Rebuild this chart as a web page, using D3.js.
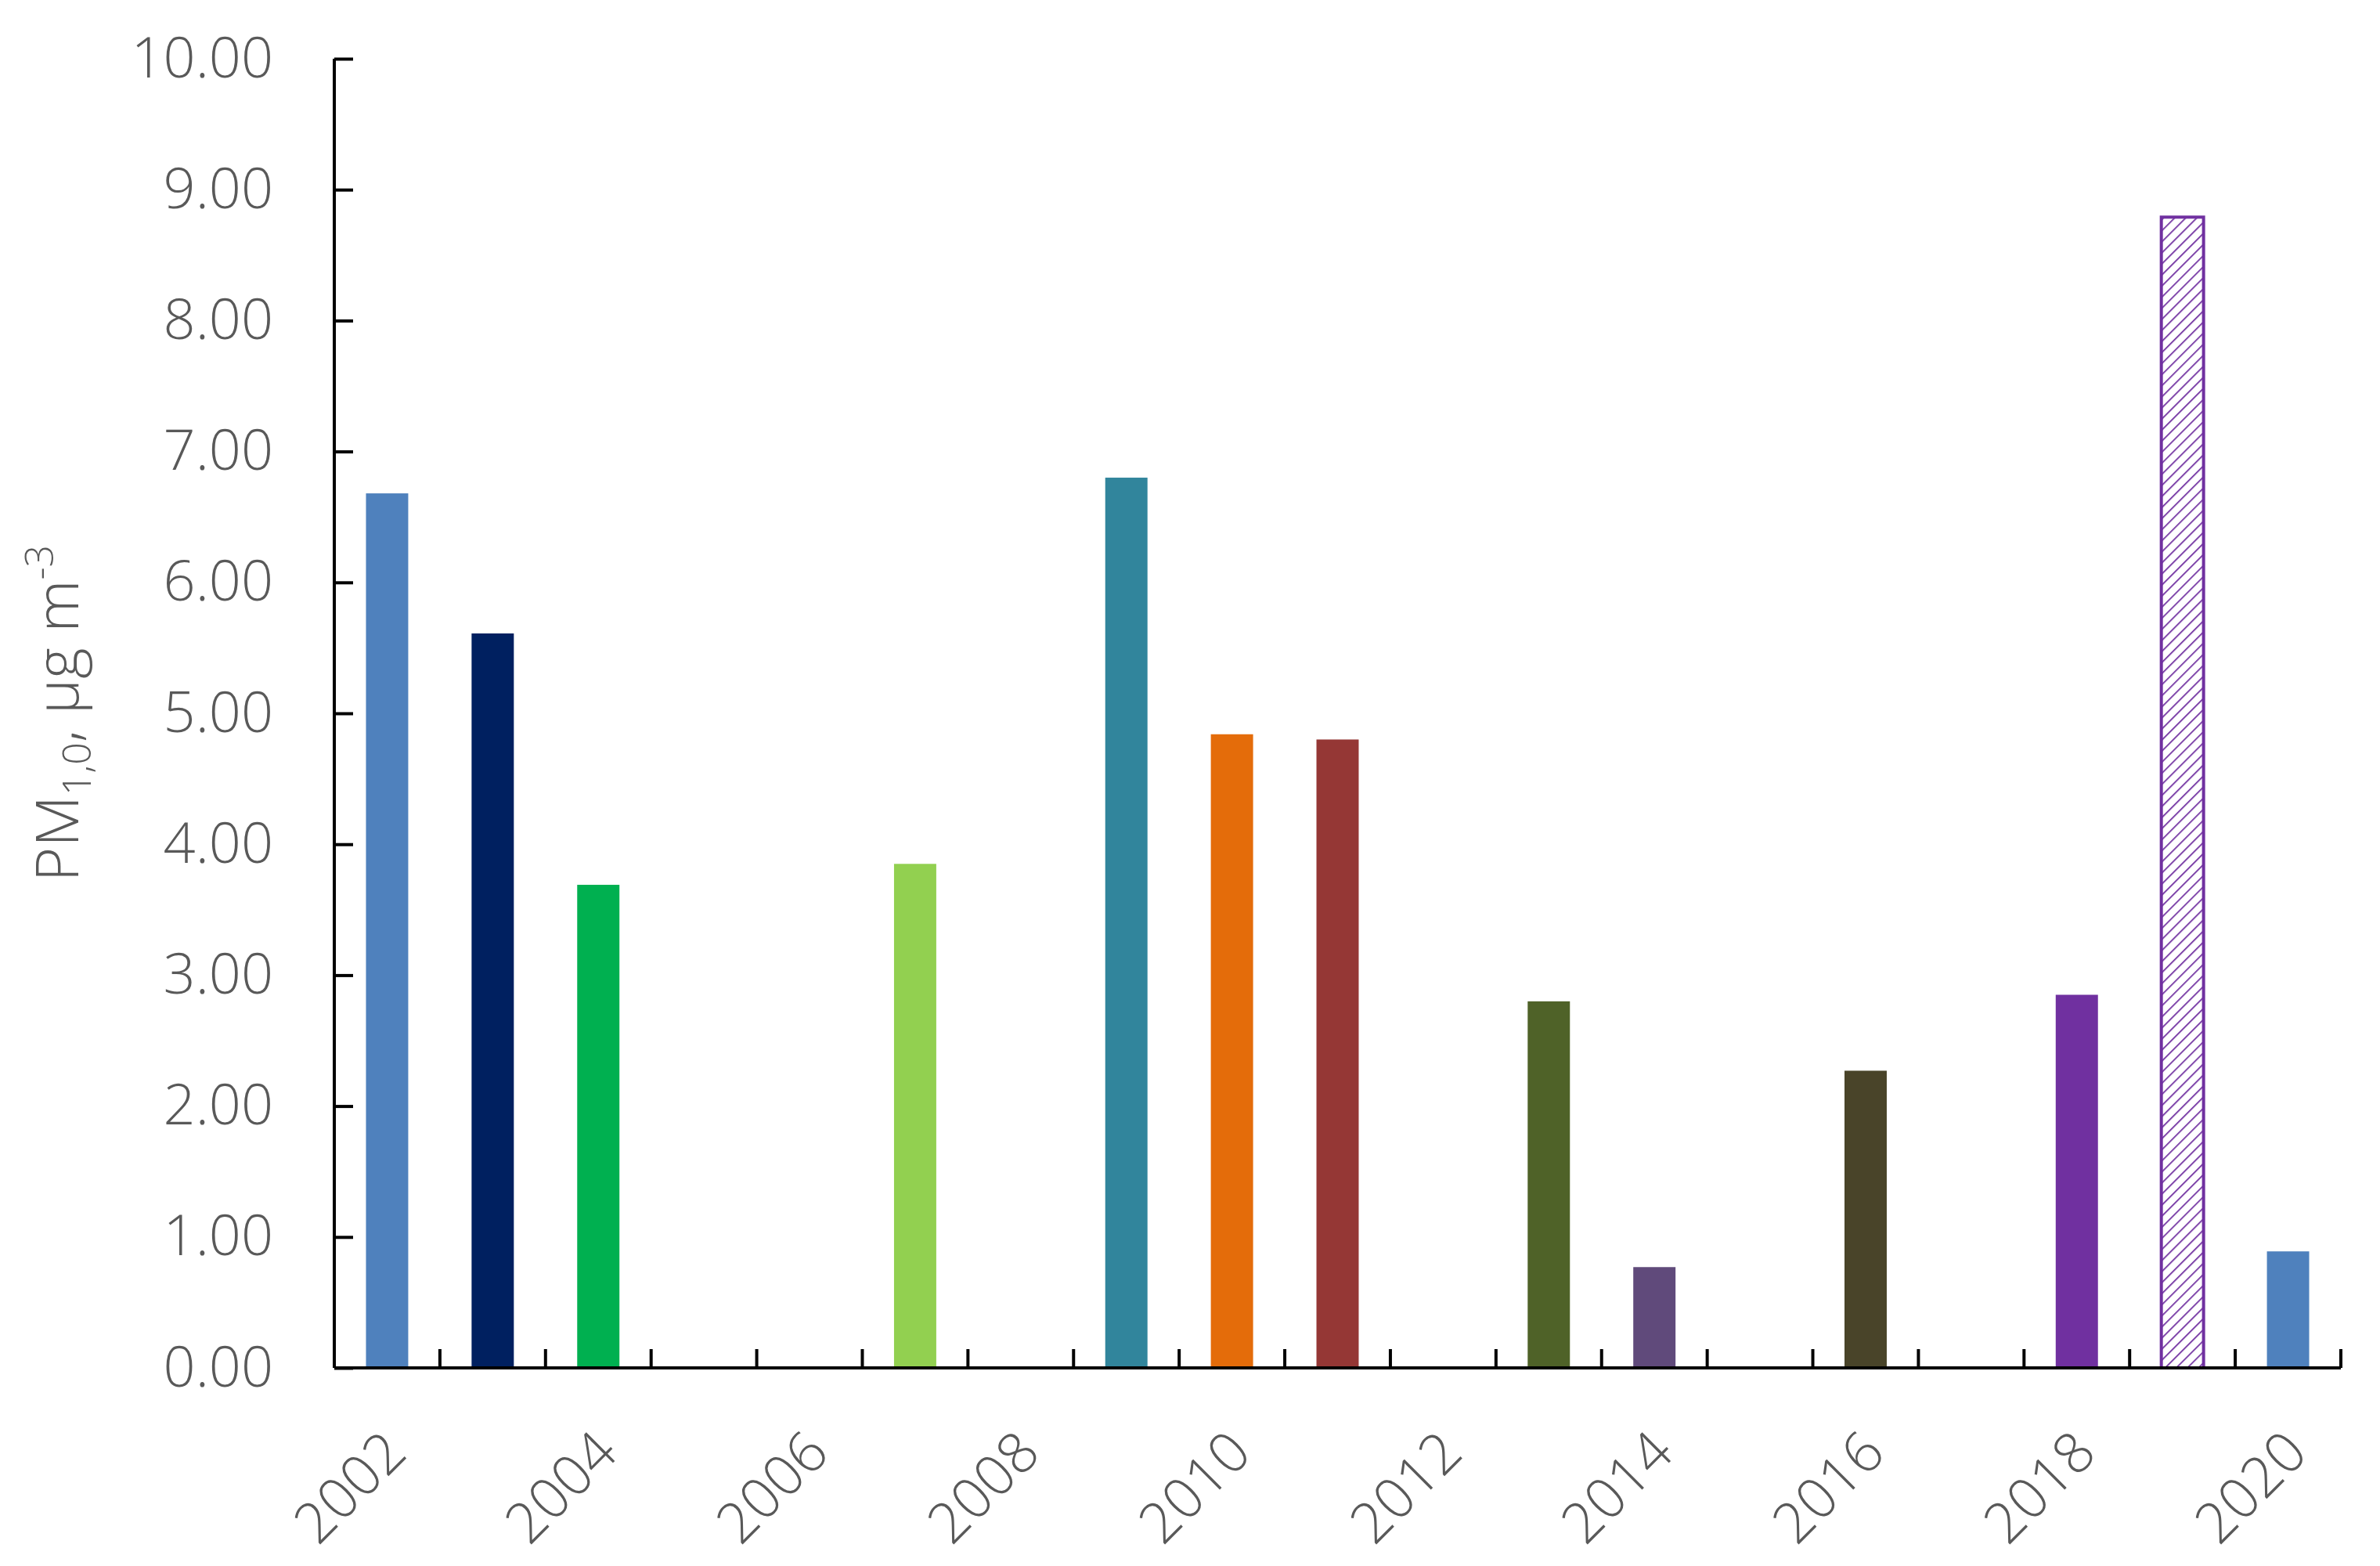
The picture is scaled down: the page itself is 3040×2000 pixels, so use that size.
<!DOCTYPE html>
<html>
<head>
<meta charset="utf-8">
<script src="https://cdn.jsdelivr.net/npm/d3@7"></script>
<style>
  html, body { margin: 0; padding: 0; background: #fff; }
  svg { display: block; }
</style>
</head>
<body>
<svg id="chart"></svg>
<script>
const years = d3.range(2002, 2021);
const values = [6.68, 5.61, 3.69, null, null, 3.85, null, 6.80, 4.84, 4.80, null, 2.80, 0.77, null, 2.27, null, 2.85, 8.79, 0.89];
const colors = ["#4F81BD", "#002060", "#00B050", null, null, "#92D050", null, "#31859C", "#E46C0A", "#953735", null, "#4F6228", "#604A7B", null, "#494429", null, "#7030A0", "hatch", "#4F81BD"];
const yTicks = d3.range(0, 11);
const labelYears = [2002, 2004, 2006, 2008, 2010, 2012, 2014, 2016, 2018, 2020];

const W = 3040, H = 2000;
const mLeft = 427, mRight = 2990, mTop = 75, mBottom = 1747;
const textColor = "#595959";
const font = "'Open Sans', 'Noto Sans', sans-serif";

const svg = d3.select("#chart").attr("width", W).attr("height", H);

const defs = svg.append("defs");
const pat = defs.append("pattern")
  .attr("id", "hatch")
  .attr("patternUnits", "userSpaceOnUse")
  .attr("width", 10).attr("height", 10)
  .attr("patternTransform", "rotate(45)");
pat.append("rect").attr("width", 10).attr("height", 10).attr("fill", "#fff");
pat.append("line")
  .attr("x1", 0).attr("y1", 0).attr("x2", 0).attr("y2", 10)
  .attr("stroke", "#7030A0").attr("stroke-width", 3.5);

const x = d3.scaleBand(years, [mLeft, mRight]).paddingInner(0.6).paddingOuter(0.3);
const y = d3.scaleLinear([0, 10], [mBottom, mTop]);

const data = years.map((yr, i) => ({ year: yr, value: values[i], color: colors[i] }))
  .filter(d => d.value != null);

// bars
svg.append("g").selectAll("rect")
  .data(data)
  .join("rect")
  .attr("x", d => x(d.year))
  .attr("width", x.bandwidth())
  .attr("y", d => y(d.value))
  .attr("height", d => y(0) - y(d.value))
  .attr("fill", d => d.color === "hatch" ? "url(#hatch)" : d.color)
  .attr("stroke", d => d.color === "hatch" ? "#7030A0" : "none")
  .attr("stroke-width", 4);

// y axis
const yAxis = svg.append("g")
  .attr("transform", `translate(${mLeft},0)`)
  .call(d3.axisLeft(y).tickValues(yTicks).tickSize(-24).tickPadding(78).tickFormat(d3.format(".2f")))
  .attr("font-family", font)
  .attr("font-size", 72);
yAxis.select(".domain").attr("stroke", "#000").attr("stroke-width", 4)
  .attr("d", `M0,${mTop}V${mBottom}`);
yAxis.selectAll(".tick line").attr("stroke", "#000").attr("stroke-width", 4);
yAxis.selectAll(".tick text")
  .attr("fill", textColor)
  .attr("font-weight", 300);

// x axis: labels only on even years, ticks between categories
const xAxis = svg.append("g")
  .attr("transform", `translate(0,${mBottom})`)
  .call(d3.axisBottom(x).tickValues(labelYears).tickSize(0).tickPadding(0))
  .attr("font-family", font)
  .attr("font-size", 72);
xAxis.select(".domain").attr("stroke", "#000").attr("stroke-width", 4)
  .attr("d", `M${mLeft},0H${mRight}`);
xAxis.selectAll(".tick text")
  .attr("fill", textColor)
  .attr("font-weight", 300)
  .attr("text-anchor", "end")
  .attr("dy", null)
  .attr("transform", "translate(28,112) rotate(-45)");

const step = x.step();
const boundaries = years.map((yr, i) => mLeft + step * (i + 1));
xAxis.append("g").selectAll("line")
  .data(boundaries)
  .join("line")
  .attr("x1", d => d).attr("x2", d => d)
  .attr("y1", 0).attr("y2", -24)
  .attr("stroke", "#000").attr("stroke-width", 4);

// y-axis title
const title = svg.append("text")
  .attr("transform", `translate(100,${(mTop + mBottom) / 2}) rotate(-90)`)
  .attr("text-anchor", "middle")
  .attr("font-family", font)
  .attr("fill", textColor)
  .attr("font-size", 76)
  .attr("font-weight", 300);
title.append("tspan").text("PM");
title.append("tspan").attr("font-size", 50).attr("dy", 16).text("1,0");
title.append("tspan").attr("dy", -16).text(", μg m");
title.append("tspan").attr("font-size", 50).attr("dy", -32).text("-3");
</script>
</body>
</html>
